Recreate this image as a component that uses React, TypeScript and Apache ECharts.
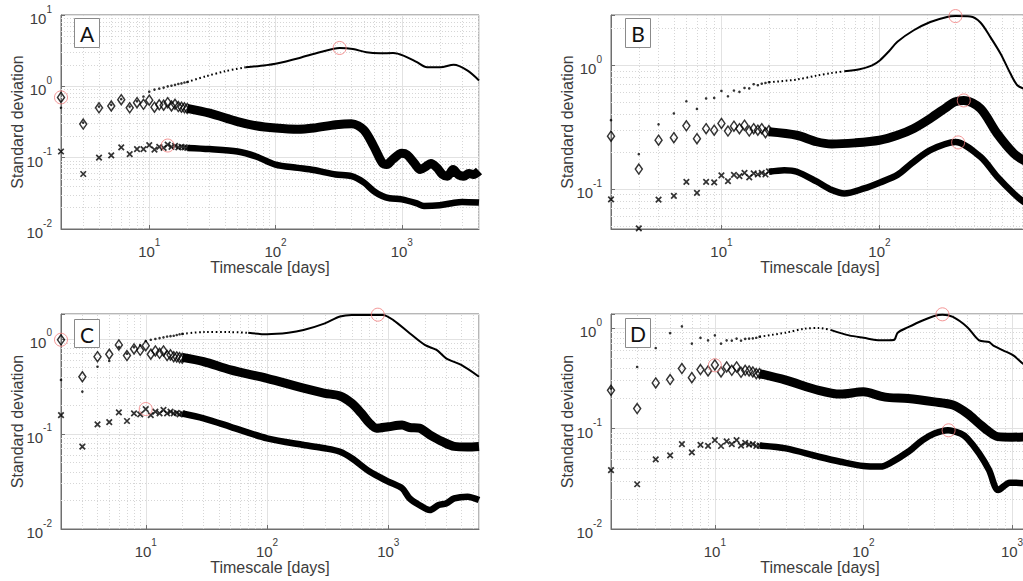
import React, { useEffect, useRef } from 'react';
import * as echarts from 'echarts';

// ---------- data ----------
const DAYS = [2, 3, 4, 5, 6, 7, 8, 9, 10, 11, 12, 13, 14, 15, 16, 17, 18, 19, 20];

// Panel A
const A_DOT = [0.5, 0.31, 0.52, 0.55, 0.66, 0.52, 0.62, 0.72, 0.84, 0.9, 0.93, 0.96, 1.0, 1.02, 1.05, 1.08, 1.1, 1.13, 1.15];
const A_DIA = [0.7, 0.296, 0.5, 0.53, 0.65, 0.5, 0.59, 0.56, 0.64, 0.51, 0.55, 0.545, 0.59, 0.53, 0.56, 0.52, 0.51, 0.5, 0.49];
const A_CRS = [0.122, 0.059, 0.1, 0.108, 0.139, 0.112, 0.132, 0.132, 0.15, 0.13, 0.142, 0.137, 0.152, 0.142, 0.146, 0.139, 0.142, 0.139, 0.137];
const A_DOT_TX = [20, 28, 40, 58, 84, 100, 155, 224, 322, 410, 524, 669, 855, 1030, 1319, 1585, 2020, 2580, 3300, 4090];
const A_DOT_TY = [1.15, 1.38, 1.63, 1.85, 1.98, 2.07, 2.5, 3.0, 3.45, 3.34, 3.0, 2.9, 2.93, 2.7, 2.18, 1.85, 1.85, 2.0, 1.67, 1.21];
const A_DIA_TX = [20, 30, 50, 70, 100, 150, 200, 300, 400, 500, 600, 700, 760, 850, 1000, 1100, 1250, 1400, 1550, 1700, 1900, 2100, 2300, 2550, 2800, 3100, 3400, 3700, 4090];
const A_DIA_TY = [0.49, 0.42, 0.32, 0.28, 0.26, 0.25, 0.26, 0.29, 0.3, 0.245, 0.144, 0.085, 0.08, 0.095, 0.115, 0.11, 0.085, 0.068, 0.075, 0.083, 0.072, 0.058, 0.055, 0.068, 0.058, 0.055, 0.06, 0.058, 0.065];
const A_CRS_TX = [20, 30, 50, 70, 100, 150, 200, 300, 400, 500, 600, 700, 800, 1000, 1300, 1500, 2000, 2500, 3000, 4090];
const A_CRS_TY = [0.137, 0.132, 0.122, 0.104, 0.08, 0.072, 0.067, 0.058, 0.055, 0.045, 0.034, 0.029, 0.027, 0.026, 0.023, 0.021, 0.0215, 0.023, 0.024, 0.0235];
const A_PEAKS = [[2, 0.7], [14, 0.148], [322, 3.45]];

// Panel B
const B_DOT = [0.36, 0.191, 0.333, 0.408, 0.512, 0.444, 0.539, 0.545, 0.62, 0.562, 0.625, 0.61, 0.656, 0.65, 0.703, 0.69, 0.71, 0.72, 0.73];
const B_DIA = [0.267, 0.145, 0.248, 0.26, 0.324, 0.255, 0.307, 0.299, 0.339, 0.294, 0.322, 0.307, 0.328, 0.294, 0.307, 0.299, 0.307, 0.285, 0.297];
const B_CRS = [0.0826, 0.048, 0.082, 0.088, 0.114, 0.093, 0.114, 0.113, 0.129, 0.116, 0.13, 0.127, 0.135, 0.124, 0.134, 0.131, 0.135, 0.131, 0.139];
const B_DOT_TX = [20, 30, 40, 50, 60, 75, 90, 101, 115, 130, 165, 210, 268, 303, 376, 436, 504, 585, 675, 746, 815, 885];
const B_DOT_TY = [0.73, 0.767, 0.826, 0.867, 0.895, 0.93, 1.0, 1.1, 1.3, 1.55, 1.92, 2.24, 2.46, 2.5, 2.48, 2.22, 1.69, 1.24, 0.857, 0.69, 0.65, 0.64];
const B_DIA_TX = [20, 30, 40, 50, 70, 100, 130, 165, 210, 268, 300, 342, 436, 556, 708, 815, 885];
const B_DIA_TY = [0.29, 0.272, 0.241, 0.231, 0.236, 0.248, 0.272, 0.309, 0.372, 0.461, 0.506, 0.52, 0.447, 0.281, 0.194, 0.171, 0.165];
const B_CRS_TX = [20, 25, 30, 40, 50, 60, 80, 101, 130, 160, 210, 303, 436, 556, 708, 815, 885];
const B_CRS_TY = [0.138, 0.142, 0.138, 0.115, 0.098, 0.092, 0.101, 0.113, 0.13, 0.161, 0.206, 0.24, 0.182, 0.126, 0.092, 0.079, 0.075];
const B_PEAKS = [[303, 2.5], [342, 0.52], [315, 0.238]];

// Panel C
const C_DOT = [0.37, 0.279, 0.51, 0.586, 0.82, 0.7, 0.82, 0.86, 0.95, 0.98, 1.0, 1.02, 1.04, 1.06, 1.07, 1.08, 1.1, 1.12, 1.13];
const C_DIA = [0.98, 0.4, 0.65, 0.69, 0.865, 0.668, 0.785, 0.76, 0.85, 0.69, 0.748, 0.706, 0.748, 0.668, 0.68, 0.65, 0.646, 0.636, 0.626];
const C_CRS = [0.158, 0.0736, 0.126, 0.133, 0.169, 0.137, 0.165, 0.161, 0.183, 0.158, 0.172, 0.165, 0.179, 0.165, 0.172, 0.165, 0.167, 0.161, 0.164];
const C_DOT_TX = [20, 30, 50, 70, 100, 150, 200, 300, 400, 500, 700, 900, 1100, 1500, 2000, 2500, 3000, 4000, 5600];
const C_DOT_TY = [1.13, 1.18, 1.18, 1.16, 1.12, 1.16, 1.24, 1.46, 1.72, 1.79, 1.79, 1.79, 1.58, 1.15, 0.865, 0.766, 0.626, 0.532, 0.4];
const C_DIA_TX = [20, 30, 50, 100, 200, 300, 400, 500, 600, 700, 800, 1000, 1300, 1500, 1800, 2200, 2800, 3500, 4500, 5600];
const C_DIA_TY = [0.64, 0.577, 0.472, 0.385, 0.303, 0.268, 0.251, 0.21, 0.165, 0.13, 0.115, 0.119, 0.124, 0.117, 0.115, 0.098, 0.083, 0.074, 0.073, 0.074];
const C_CRS_TX = [20, 30, 50, 100, 200, 300, 400, 500, 700, 1000, 1300, 1500, 1800, 2200, 2600, 3000, 3500, 4500, 5600];
const C_CRS_TY = [0.164, 0.146, 0.119, 0.09, 0.0766, 0.0707, 0.065, 0.0555, 0.0402, 0.0315, 0.0268, 0.021, 0.0179, 0.0158, 0.0179, 0.0186, 0.021, 0.0219, 0.0202];
const C_PEAKS = [[2, 0.98], [10, 0.183], [820, 1.8]];

// Panel D
const D_DOT = [0.25, 0.41, 0.633, 0.89, 1.04, 0.7, 0.8, 0.755, 0.846, 0.7, 0.755, 0.75, 0.785, 0.75, 0.78, 0.785, 0.79, 0.8, 0.82];
const D_DIA = [0.24, 0.158, 0.284, 0.307, 0.395, 0.321, 0.386, 0.374, 0.43, 0.366, 0.41, 0.38, 0.41, 0.363, 0.38, 0.374, 0.366, 0.352, 0.352];
const D_CRS = [0.0386, 0.0279, 0.0493, 0.054, 0.07, 0.0578, 0.0689, 0.0673, 0.0767, 0.067, 0.0745, 0.07, 0.0767, 0.0676, 0.072, 0.069, 0.07, 0.067, 0.0676];
const D_DOT_TX = [20, 30, 40, 50, 60, 80, 100, 130, 160, 170, 200, 250, 300, 340, 400, 500, 600, 700, 745, 869, 1020, 1183, 1300];
const D_DOT_TY = [0.82, 0.9, 0.985, 1.0, 0.96, 0.846, 0.8, 0.755, 0.76, 0.9, 1.02, 1.19, 1.32, 1.36, 1.29, 1.02, 0.755, 0.726, 0.673, 0.6, 0.535, 0.443, 0.42];
const D_DIA_TX = [20, 30, 50, 70, 100, 130, 150, 200, 300, 400, 500, 600, 700, 800, 1000, 1300];
const D_DIA_TY = [0.352, 0.303, 0.24, 0.22, 0.232, 0.21, 0.203, 0.199, 0.184, 0.171, 0.141, 0.112, 0.093, 0.083, 0.082, 0.083];
const D_CRS_TX = [20, 30, 50, 70, 100, 130, 150, 200, 250, 300, 370, 450, 500, 600, 700, 806, 966, 1183, 1300];
const D_CRS_TY = [0.0676, 0.0634, 0.0524, 0.0467, 0.0423, 0.0418, 0.045, 0.0587, 0.0767, 0.0893, 0.0964, 0.089, 0.0797, 0.0566, 0.0386, 0.0244, 0.0289, 0.0286, 0.028];
const D_PEAKS = [[10, 0.426], [340, 1.37], [374, 0.096]];

const PANEL_LABELS = ['A', 'B', 'C', 'D'];
const X_MAX = [4090, 885, 5600, 1300];
const Y_MIN = [0.01, 0.0475, 0.01, 0.01];
const Y_MAX = [10, 2.55, 1.83, 1.38];
const X_NAME = 'Timescale [days]';
const Y_NAME = 'Standard deviation';

// ---------- styling ----------
const FONT = "'Liberation Sans', Arial, Helvetica, sans-serif";
const TXT = '#3c3c3c';
const AX = '#6f6f6f';
const MAJOR = '#e2e2e2';
const MINOR = '#d6d6d6';
const PEAK = '#f07a7a';

const GRIDS = [
  { left: 61, top: 15, width: 418, height: 214 },
  { left: 611, top: 15, width: 418, height: 214 },
  { left: 61, top: 314, width: 418, height: 215 },
  { left: 611, top: 314, width: 418, height: 215 },
];
const BOXES = [
  [74, 18, 25, 29],
  [625, 18, 25, 29],
  [74, 319, 25, 28],
  [625, 318, 25, 29],
];

const pair = (xs: number[], ys: number[]) => xs.map((x, i) => [x, ys[i]]);

const PANELS = [
  { dot: A_DOT, dia: A_DIA, crs: A_CRS, dotT: pair(A_DOT_TX, A_DOT_TY), diaT: pair(A_DIA_TX, A_DIA_TY), crsT: pair(A_CRS_TX, A_CRS_TY), peaks: A_PEAKS },
  { dot: B_DOT, dia: B_DIA, crs: B_CRS, dotT: pair(B_DOT_TX, B_DOT_TY), diaT: pair(B_DIA_TX, B_DIA_TY), crsT: pair(B_CRS_TX, B_CRS_TY), peaks: B_PEAKS },
  { dot: C_DOT, dia: C_DIA, crs: C_CRS, dotT: pair(C_DOT_TX, C_DOT_TY), diaT: pair(C_DIA_TX, C_DIA_TY), crsT: pair(C_CRS_TX, C_CRS_TY), peaks: C_PEAKS },
  { dot: D_DOT, dia: D_DIA, crs: D_CRS, dotT: pair(D_DOT_TX, D_DOT_TY), diaT: pair(D_DIA_TX, D_DIA_TY), crsT: pair(D_CRS_TX, D_CRS_TY), peaks: D_PEAKS },
];

function minorTicks(min: number, max: number): number[] {
  const out: number[] = [];
  const d0 = Math.floor(Math.log10(min));
  const d1 = Math.ceil(Math.log10(max));
  for (let d = d0; d <= d1; d++) {
    for (let k = 2; k <= 9; k++) {
      const v = parseFloat((k * Math.pow(10, d)).toPrecision(6));
      if (v > min * 1.001 && v < max * 0.999) out.push(v);
    }
  }
  return out;
}

const powLabel = (v: number) => {
  const e = Math.log10(v);
  const r = Math.round(e);
  if (Math.abs(e - r) > 1e-4) return '';
  return `{b|10}{s|${r}}`;
};

const RICH = {
  b: { fontSize: 15, fontFamily: FONT, color: TXT, lineHeight: 22, verticalAlign: 'bottom' },
  s: { fontSize: 10, fontFamily: FONT, color: TXT, verticalAlign: 'top' },
};

function buildOption() {
  const grid: any[] = [];
  const xAxis: any[] = [];
  const yAxis: any[] = [];
  const series: any[] = [];
  const graphic: any[] = [];

  PANELS.forEach((p, i) => {
    grid.push({
      ...GRIDS[i],
      show: true,
      borderColor: AX,
      borderWidth: 1,
      backgroundColor: '#fff',
      containLabel: false,
      outerBoundsMode: 'none',
    });
    xAxis.push({
      type: 'log',
      logBase: 10,
      gridIndex: i,
      min: 2,
      max: X_MAX[i],
      name: X_NAME,
      nameLocation: 'middle',
      nameGap: 30,
      nameMoveOverlap: false,
      nameTextStyle: { fontSize: 16, color: TXT, fontFamily: FONT },
      axisLine: { show: true, onZero: false, lineStyle: { color: AX, width: 1 } },
      axisTick: { show: true, inside: true, length: 4, lineStyle: { color: AX } },
      axisLabel: { formatter: powLabel, rich: RICH, margin: 8, showMinLabel: false, showMaxLabel: false },
      splitLine: { show: true, lineStyle: { color: MAJOR, width: 1 } },
    });
    yAxis.push({
      type: 'log',
      logBase: 10,
      gridIndex: i,
      min: Y_MIN[i],
      max: Y_MAX[i],
      name: Y_NAME,
      nameLocation: 'middle',
      nameGap: 36,
      nameMoveOverlap: false,
      nameTextStyle: { fontSize: 16, color: TXT, fontFamily: FONT },
      axisLine: { show: true, onZero: false, lineStyle: { color: AX, width: 1 } },
      axisTick: { show: true, inside: true, length: 4, lineStyle: { color: AX } },
      axisLabel: { formatter: powLabel, rich: RICH, margin: 9 },
      splitLine: { show: true, lineStyle: { color: MAJOR, width: 1 } },
    });

    const common = { xAxisIndex: i, yAxisIndex: i, animation: false, silent: true };

    // minor grid lines at 2..9 x 10^n (dotted, like MATLAB)
    series.push({
      ...common,
      type: 'line',
      data: [[2, Y_MIN[i]]],
      symbol: 'none',
      lineStyle: { width: 0 },
      z: 1,
      markLine: {
        silent: true,
        z: 1,
        animation: false,
        symbol: ['none', 'none'],
        label: { show: false },
        lineStyle: { type: [1, 2], color: MINOR, width: 1 },
        data: [
          ...minorTicks(2, X_MAX[i]).map((v) => ({ xAxis: v })),
          ...minorTicks(Y_MIN[i], Y_MAX[i]).map((v) => ({ yAxis: v })),
        ],
      },
    });

    // thick tails (dense regions)
    series.push({ ...common, type: 'line', data: p.diaT, symbol: 'none', smooth: 0.3, lineStyle: { color: '#000', width: 9 }, z: 3 });
    series.push({ ...common, type: 'line', data: p.crsT, symbol: 'none', smooth: 0.3, lineStyle: { color: '#000', width: 6.5 }, z: 3 });

    // top series: dotted part, then continuous
    const k = p.dotT.findIndex((pt) => pt[0] >= 55);
    series.push({ ...common, type: 'line', data: p.dotT.slice(0, k + 1), symbol: 'none', smooth: 0.3, lineStyle: { color: '#000', width: 2, type: [1.6, 2.6] }, z: 4 });
    series.push({ ...common, type: 'line', data: p.dotT.slice(k), symbol: 'none', smooth: 0.3, lineStyle: { color: '#000', width: 2 }, z: 4 });

    // individual markers at small timescales
    series.push({ ...common, type: 'scatter', data: DAYS.map((d, j) => [d, p.dot[j]]), symbol: 'circle', symbolSize: 2.6, itemStyle: { color: '#000' }, z: 5 });
    series.push({
      ...common,
      type: 'scatter',
      data: DAYS.map((d, j) => [d, p.dia[j]]),
      symbol: 'diamond',
      symbolSize: [7, 10],
      itemStyle: { color: 'rgba(255,255,255,0)', borderColor: '#000', borderWidth: 1.5 },
      z: 5,
    });
    series.push({
      ...common,
      type: 'scatter',
      data: DAYS.map((d, j) => [d, p.crs[j]]),
      symbol: 'path://M0,0L10,10M10,0L0,10',
      symbolSize: 5.5,
      itemStyle: { color: 'none', borderColor: '#000', borderWidth: 1.7 },
      z: 5,
    });

    // red circles on the peaks
    series.push({
      ...common,
      type: 'scatter',
      data: p.peaks,
      symbol: 'circle',
      symbolSize: 13,
      clip: false,
      itemStyle: { color: 'rgba(0,0,0,0)', borderColor: PEAK, borderWidth: 1 },
      z: 8,
    });

    const b = BOXES[i];
    graphic.push({
      type: 'group',
      x: b[0],
      y: b[1],
      z: 100,
      children: [
        { type: 'rect', z: 100, shape: { x: 0.5, y: 0.5, width: b[2], height: b[3] }, style: { fill: '#fff', stroke: '#8a8a8a', lineWidth: 1 } },
        {
          type: 'text',
          z: 101,
          x: b[2] / 2 + 0.5,
          y: b[3] / 2 + 1,
          style: { text: PANEL_LABELS[i], font: "21px Lato, 'Open Sans', sans-serif", fill: '#111', textAlign: 'center', textVerticalAlign: 'middle', align: 'center', verticalAlign: 'middle' },
        },
      ],
    });
  });

  return { animation: false, backgroundColor: '#fff', grid, xAxis, yAxis, series, graphic };
}

export default function App() {
  const ref = useRef<HTMLDivElement>(null);
  useEffect(() => {
    if (!ref.current) return;
    const chart = echarts.init(ref.current, undefined, { renderer: 'svg' });
    chart.setOption(buildOption() as any);
    return () => chart.dispose();
  }, []);
  return <div ref={ref} style={{ position: 'absolute', left: 0, top: 0, width: 1023, height: 581, background: '#fff' }} />;
}
